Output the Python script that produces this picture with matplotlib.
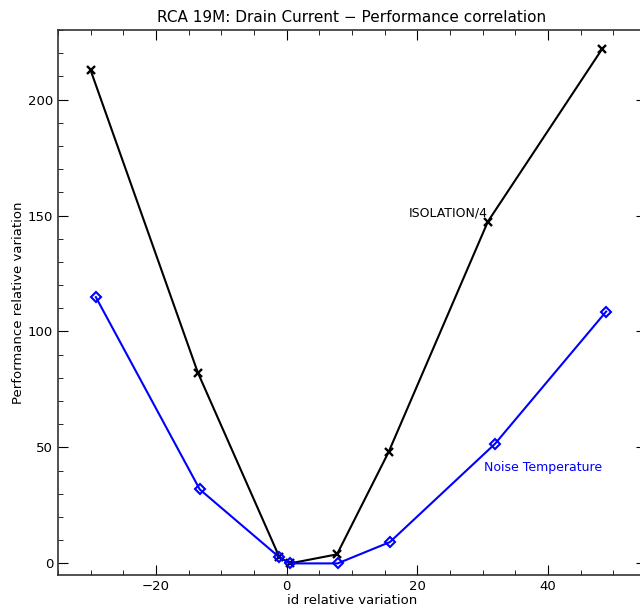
import matplotlib
matplotlib.use('Agg')
import matplotlib.pyplot as plt
from matplotlib.ticker import MultipleLocator

# id relative variation vs performance relative variation
id_iso = [-30.0, -13.6, -1.1, 0.5, 7.7, 15.6, 30.8, 48.3]
isolation = [212.6, 82.3, 2.6, 0.0, 3.9, 48.0, 147.4, 221.9]
id_noise = [-29.2, -13.3, -1.1, 0.5, 7.8, 15.8, 31.9, 48.9]
noise_temp = [114.8, 31.9, 2.6, 0.0, 0.0, 9.2, 51.6, 108.6]

fig = plt.figure(figsize=(6.4, 6.1), dpi=100)
ax = fig.add_axes([58/640., 1-575/610., (646-58)/640., (575-30)/610.])

ax.plot(id_iso, isolation, color='black', lw=1.5, marker='x', ms=6, mew=1.7)
ax.plot(id_noise, noise_temp, color='#0000ff', lw=1.5, marker='D', ms=5,
        mfc='none', mew=1.5)

ax.text(18.7, 151, 'ISOLATION/4', fontsize=9, color='black', ha='left', va='center')
ax.text(30.2, 41.4, 'Noise Temperature', fontsize=9, color='#0000ff', ha='left', va='center')

ax.set_xlim(-35, 55)
ax.set_ylim(-5, 230)
ax.xaxis.set_major_locator(MultipleLocator(20))
ax.xaxis.set_minor_locator(MultipleLocator(5))
ax.yaxis.set_major_locator(MultipleLocator(50))
ax.yaxis.set_minor_locator(MultipleLocator(10))
ax.tick_params(which='both', direction='in', top=True, right=True, labelsize=9.5)
ax.tick_params(which='major', length=7)
ax.tick_params(which='minor', length=3.5)
for s in ax.spines.values():
    s.set_linewidth(1.2)
    s.set_color('#333333')

ax.set_xlabel('id relative variation', fontsize=9.5, labelpad=1)
ax.set_ylabel('Performance relative variation', fontsize=9.5, labelpad=2)
ax.set_title('RCA 19M: Drain Current \u2212 Performance correlation', fontsize=11, pad=6)

fig.savefig('out.png', dpi=100)
